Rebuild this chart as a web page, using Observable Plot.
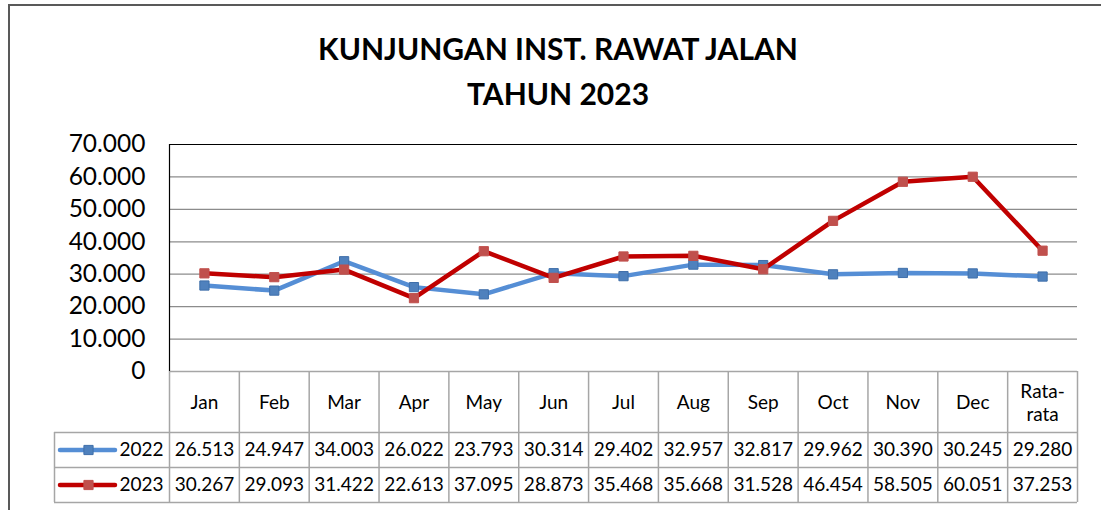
<!DOCTYPE html>
<html><head><meta charset="utf-8">
<script src="https://cdn.jsdelivr.net/npm/d3@7"></script>
<script src="https://cdn.jsdelivr.net/npm/@observablehq/plot@0.6"></script>
<style>
html,body{margin:0;padding:0;background:#fff;overflow:hidden;}
#wrap{position:relative;width:1101px;height:510px;overflow:hidden;font-family:Lato,"Open Sans",sans-serif;}
#frame{position:absolute;left:8px;top:4px;width:1200px;height:600px;border-top:2px solid #595959;border-left:2px solid #595959;}
#title{position:absolute;left:0;top:26px;width:1116px;text-align:center;font-weight:bold;font-size:30px;line-height:45px;color:#000;}
#chart{position:absolute;left:0;top:0;}
</style></head>
<body><div id="wrap"><div id="frame"></div><div id="chart"></div><div id="title">KUNJUNGAN INST. RAWAT JALAN<br>TAHUN 2023</div></div>
<script>
const categories = ["Jan","Feb","Mar","Apr","May","Jun","Jul","Aug","Sep","Oct","Nov","Dec","Rata-\nrata"];
const seriesNames = ["2022","2023"];
const values2022 = [26513,24947,34003,26022,23793,30314,29402,32957,32817,29962,30390,30245,29280];
const values2023 = [30267,29093,31422,22613,37095,28873,35468,35668,31528,46454,58505,60051,37253];
const yTicks = [0,10000,20000,30000,40000,50000,60000,70000];
const colors = {"2022":{line:"#558ED5",fill:"#4F81BD",stroke:"#3F6FAA"},"2023":{line:"#C00000",fill:"#C0504D",stroke:"#C0504D"}};

const W=1101,H=510,mL=169,mR=24,mT=144,mB=139;
const frameW=W-mL-mR, frameH=H-mT-mB;
const headH=61,rowH=35,legW=115;
const fmt = d3.formatLocale({decimal:",",thousands:".",grouping:[3],currency:["",""]}).format(",d");

const data = [];
categories.forEach((c,i)=>{
  data.push({i,cat:c,series:"2022",value:values2022[i]});
  data.push({i,cat:c,series:"2023",value:values2023[i]});
});
const idx = categories.map((c,i)=>i);
const bounds = d3.range(categories.length+1).map(k=>k-0.5);
const gridCol="#8C8C8C", tabCol="#A6A6A6";
const fontSz=19;

const marks = [
  Plot.ruleY(yTicks.filter(t=>t>0&&t<70000),{stroke:gridCol,strokeWidth:1.3}),
  Plot.ruleY([70000],{stroke:"#000",strokeWidth:1.2}),
  Plot.ruleY([0],{stroke:tabCol,strokeWidth:1.5}),
  Plot.ruleX([-0.5],{y1:0,y2:70000,stroke:"#000",strokeWidth:1.2}),
  Plot.ruleX(bounds,{stroke:tabCol,strokeWidth:1.5,insetTop:frameH,insetBottom:-(headH+2*rowH)}),
  Plot.ruleX([-0.5],{dx:-legW,stroke:tabCol,strokeWidth:1.5,insetTop:frameH+headH,insetBottom:-(headH+2*rowH)}),
  ...[headH,headH+rowH,headH+2*rowH].map(dy=>Plot.ruleY([0],{dy,insetLeft:-legW,stroke:tabCol,strokeWidth:1.5})),
  Plot.text(yTicks,{y:d=>d,text:d=>fmt(d),frameAnchor:"left",dx:-24,textAnchor:"end",lineAnchor:"middle",fontSize:24.5,fill:"#000"}),
  Plot.text(idx,{x:d=>d,text:d=>categories[d],frameAnchor:"bottom",lineAnchor:"middle",dy:headH/2,fontSize:fontSz,lineHeight:1.2,fill:"#000"}),
];
seriesNames.forEach((s,k)=>{
  const vals = k===0?values2022:values2023;
  const rows = data.filter(d=>d.series===s);
  const c = colors[s];
  const dyRow = headH + rowH*k + rowH/2;
  marks.push(
    Plot.line(rows,{x:"i",y:"value",stroke:c.line,strokeWidth:4.5,curve:"linear"}),
    Plot.dot(rows,{x:"i",y:"value",symbol:"square",r:5.2,fill:c.fill,stroke:c.stroke,strokeWidth:1}),
    Plot.text(idx,{x:d=>d,text:d=>fmt(vals[d]),frameAnchor:"bottom",lineAnchor:"middle",dy:dyRow,fontSize:fontSz,fill:"#000"}),
    Plot.text([s],{x:-0.5,text:d=>d,frameAnchor:"bottom",lineAnchor:"middle",dy:dyRow,dx:-6,textAnchor:"end",fontSize:fontSz,fill:"#000"}),
    Plot.ruleY([0],{dy:dyRow,insetLeft:-(legW-6),insetRight:frameW+54,stroke:c.line,strokeWidth:4.5,strokeLinecap:"round"}),
    Plot.dot([0],{x:-0.5,y:0,dx:-81,dy:dyRow,symbol:"square",r:5.2,fill:c.fill,stroke:c.stroke,strokeWidth:1})
  );
});

const chart = Plot.plot({
  width:W,height:H,marginLeft:mL,marginRight:mR,marginTop:mT,marginBottom:mB,
  x:{type:"linear",domain:[-0.5,categories.length-0.5],axis:null},
  y:{type:"linear",domain:[0,70000],axis:null},
  style:{fontFamily:"Lato, 'Open Sans', sans-serif",background:"transparent",overflow:"visible"},
  marks
});
document.getElementById("chart").appendChild(chart);
</script></body></html>
